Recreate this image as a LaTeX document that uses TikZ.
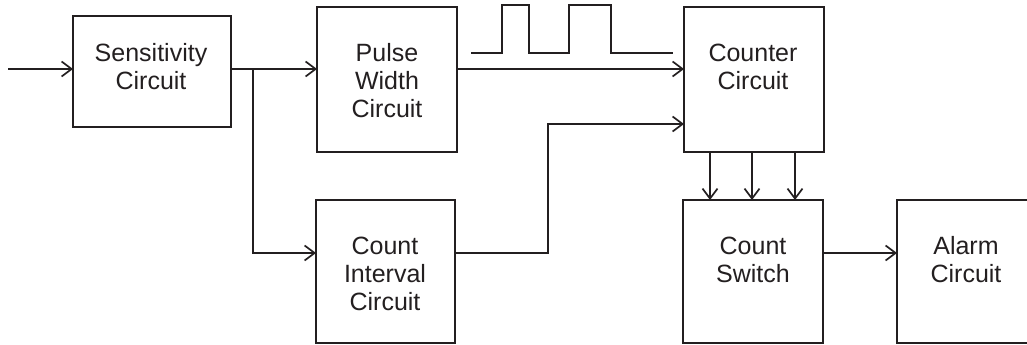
\documentclass[tikz,border=0pt]{standalone}
\usepackage{fontspec}
\setmainfont{Liberation Sans}
\usetikzlibrary{arrows.meta}
\definecolor{ink}{HTML}{231F20}
\tikzset{
  box/.style={draw=ink, line width=2.6pt, rectangle, inner sep=0pt, outer sep=0pt},
  lbl/.style={font=\fontsize{25}{28}\selectfont, align=center, text=ink, inner sep=0pt},
  conn/.style={draw=ink, line width=1.3pt, -{Straight Barb[length=10pt,width=15pt,line width=1.7pt]}},
  wave/.style={draw=ink, line width=1.3pt}
}
\begin{document}
\begin{tikzpicture}[x=1pt,y=-1pt]
\useasboundingbox (0,0) rectangle (1027,345);
\clip (0,0) rectangle (1027,345);
% boxes
\node[box, minimum width=158pt, minimum height=111pt] (sens) at (152,71.5) {};
\node[box, minimum width=140pt, minimum height=145pt] (pw) at (387,79.5) {};
\node[box, minimum width=139pt, minimum height=143pt] (ci) at (385.5,271.5) {};
\node[box, minimum width=140pt, minimum height=145pt] (cnt) at (754,79.5) {};
\node[box, minimum width=140pt, minimum height=143pt] (sw) at (753,271.5) {};
\node[box, minimum width=138pt, minimum height=143pt] (al) at (966,271.5) {};
% labels
\node[lbl] (senst) at (151,67) {Sensitivity\\Circuit};
\node[lbl] (pwt) at (387,81) {Pulse\\Width\\Circuit};
\node[lbl] (cit) at (385,274) {Count\\Interval\\Circuit};
\node[lbl] (cntt) at (753,67) {Counter\\Circuit};
\node[lbl] (swt) at (753,260) {Count\\Switch};
\node[lbl] (alt) at (966,260) {Alarm\\Circuit};
% helper coordinates
\coordinate (in) at (8,69);
\coordinate (br) at (253,69);
\coordinate (lo) at (253,253);
\coordinate (mid) at (548,124);
% connectors
\draw[conn] (in) -- (in -| sens.west);
\draw[draw=ink, line width=1.3pt] (sens.east |- in) -- (br);
\draw[conn] (br) -- (br -| pw.west);
\draw[conn] (br) -- (lo) -- (lo -| ci.west);
\draw[conn] (pw.east |- in) -- (cnt.west |- in);
\draw[conn] (ci.east |- lo) -| (mid) -- (mid -| cnt.west);
\foreach \x in {710,752,795} \draw[conn] (\x,0 |- cnt.south) -- (\x,0 |- sw.north);
\draw[conn] (sw.east |- lo) -- (al.west |- lo);
% pulse waveform
\draw[wave] (471,53) -- (502,53) -- (502,5) -- (529,5) -- (529,53) -- (569,53) -- (569,5) -- (611,5) -- (611,53) -- (673,53);
\end{tikzpicture}
\end{document}
